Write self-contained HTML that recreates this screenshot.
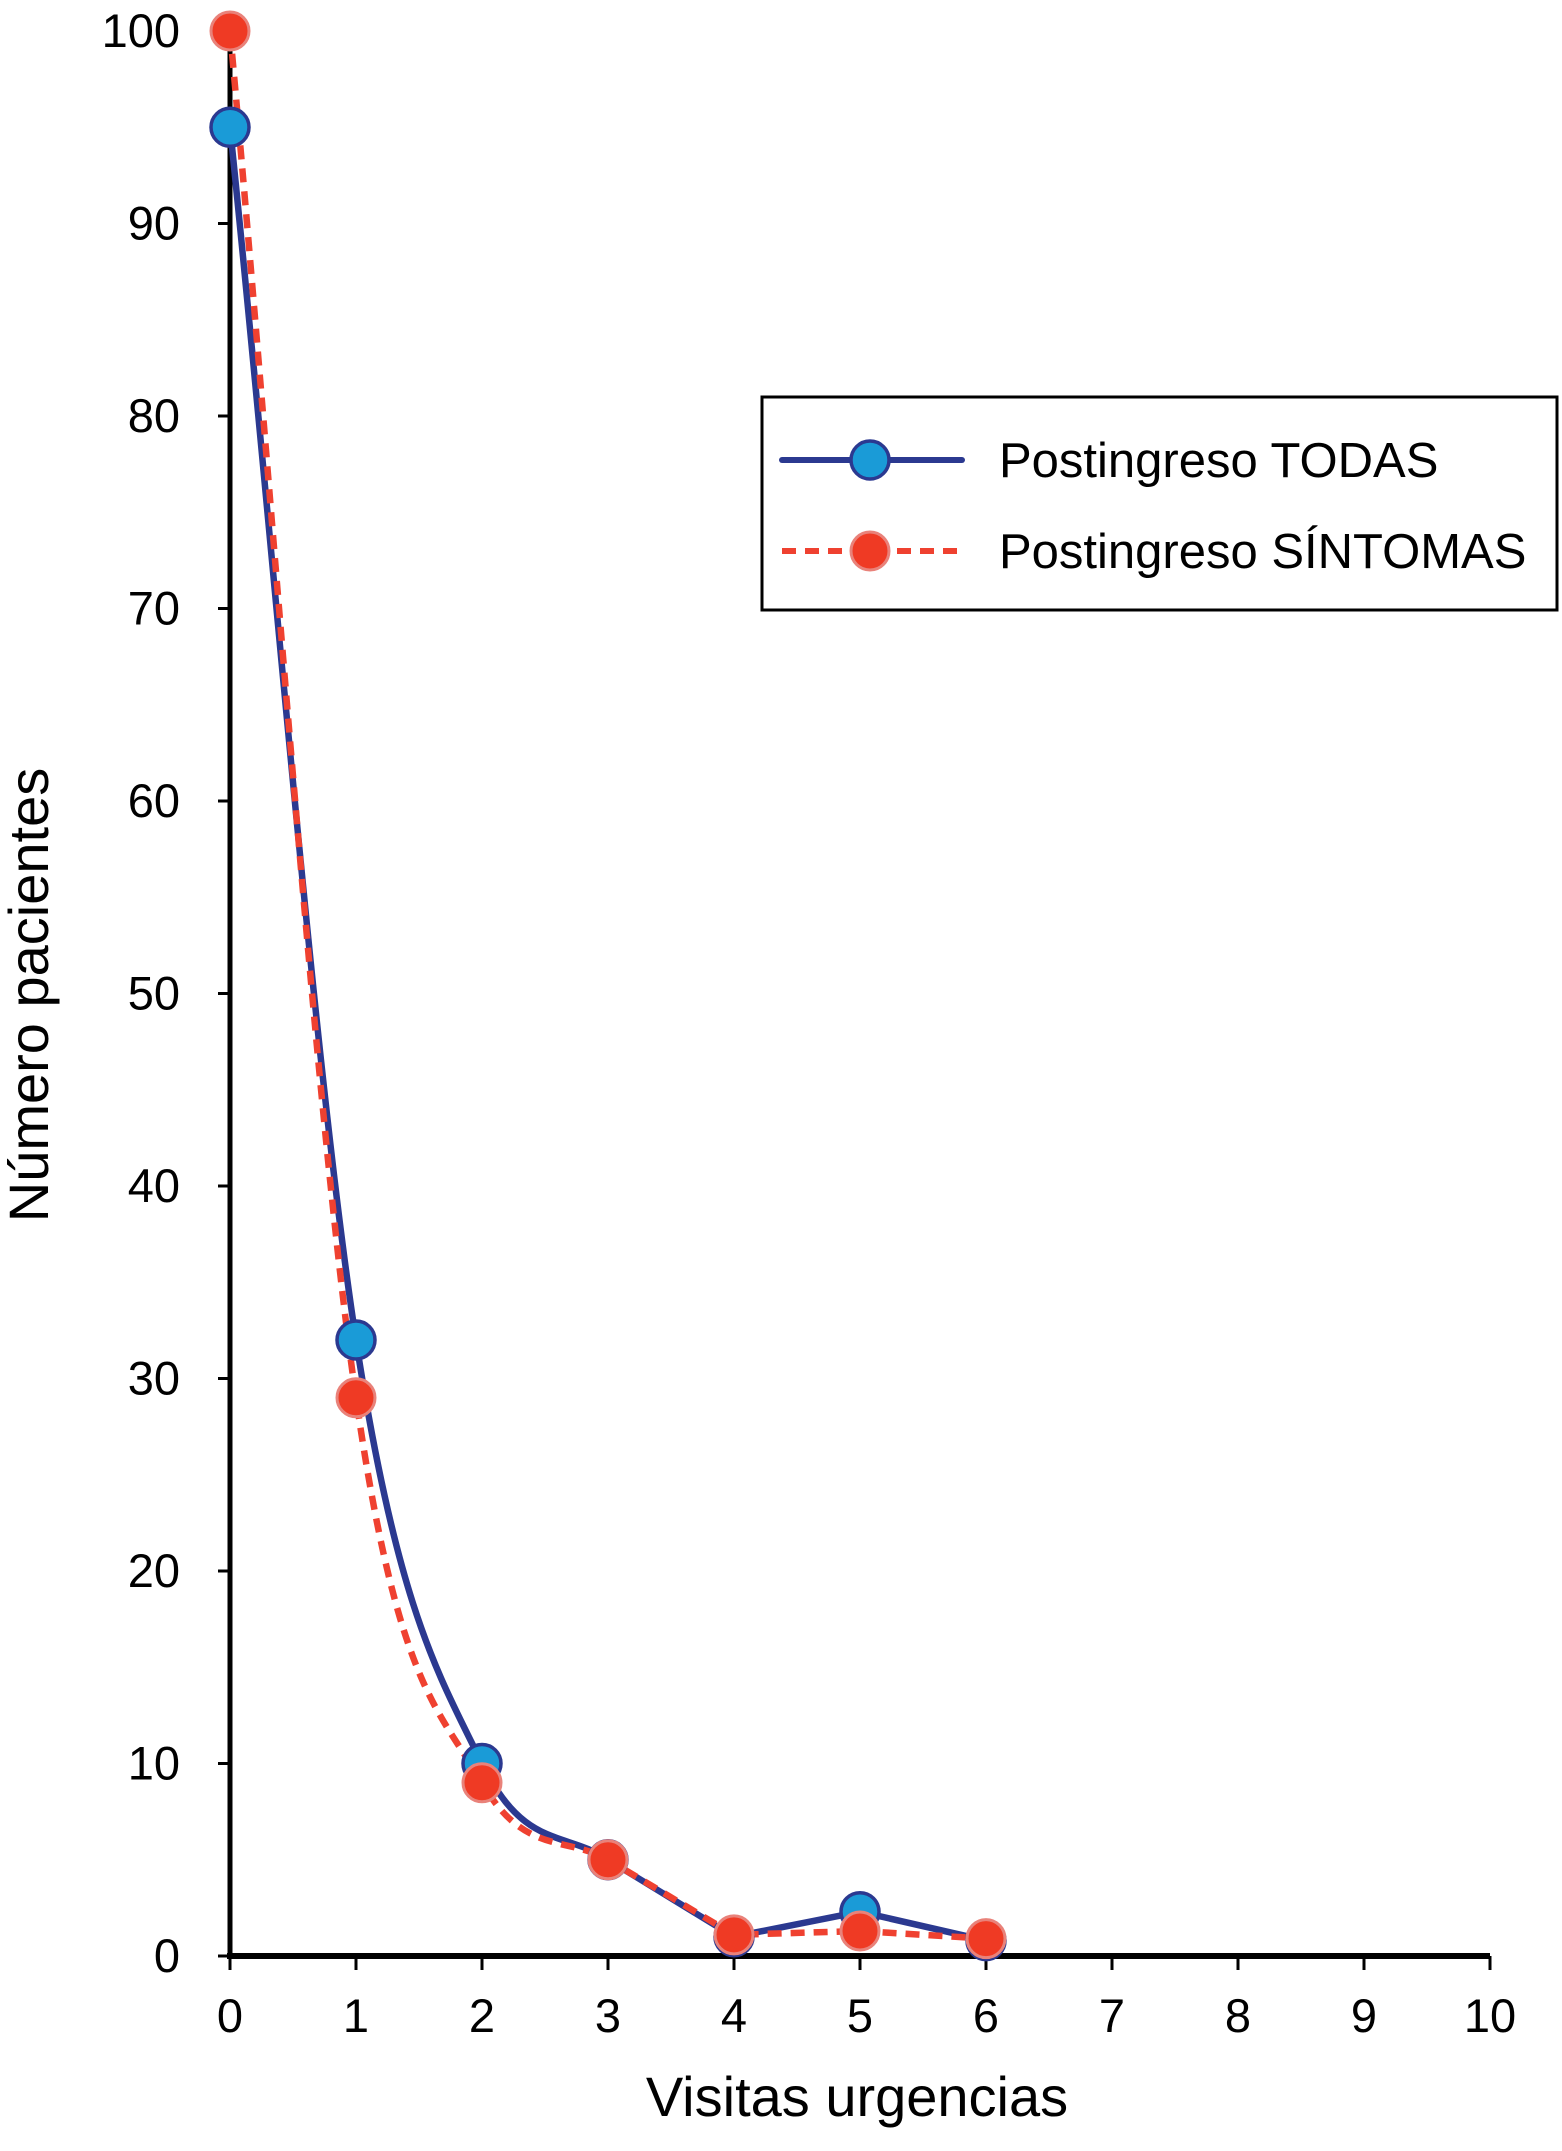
<!DOCTYPE html>
<html><head><meta charset="utf-8"><style>
html,body{margin:0;padding:0;background:#fff;}
svg text{font-family:"Liberation Sans",Arial,sans-serif;fill:#000;}
</style></head><body>
<svg id="chart" width="1562" height="2146" viewBox="0 0 1562 2146" xmlns="http://www.w3.org/2000/svg">
<g id="axes"></g>
<g id="series"></g>
<text x="0" y="0" font-size="56" text-anchor="middle" transform="translate(48,995) rotate(-90)">Número pacientes</text>
<text x="857" y="2116" font-size="56" text-anchor="middle">Visitas urgencias</text>
<g>
<rect x="762" y="397" width="795" height="213" fill="#fff" stroke="#000" stroke-width="3"/>
<g>
<line x1="782" y1="460" x2="962" y2="460" stroke="#2b3990" stroke-width="6" stroke-linecap="round"/>
<circle cx="870" cy="460" r="19" fill="#1a9bd7" stroke="#2b3990" stroke-width="3.5"/>
<text x="999" y="477" font-size="49">Postingreso TODAS</text>
</g>
<g>
<line x1="782" y1="551" x2="962" y2="551" stroke="#ef4130" stroke-width="6" stroke-dasharray="14,9"/>
<circle cx="870" cy="551" r="19" fill="#ef3a24" stroke="#e9827a" stroke-width="3"/>
<text x="999" y="568" font-size="49">Postingreso SÍNTOMAS</text>
</g>
</g>
</svg>
<script>
const xCategories = [0,1,2,3,4,5,6];
const todasValues = [95,32,10,5,1,2.3,0.8];
const sintomasValues = [100,29,9,5,1.1,1.3,0.9];
const xTicks = [0,1,2,3,4,5,6,7,8,9,10];
const yTicks = [0,10,20,30,40,50,60,70,80,90,100];

const NS='http://www.w3.org/2000/svg';
const X0=230, X1=1490, Y0=1956, Y1=31;
function sx(v){return X0+(X1-X0)*v/10;}
function sy(v){return Y0-(Y0-Y1)*v/100;}
function mk(tag,attrs,parent){const e=document.createElementNS(NS,tag);for(const k in attrs)e.setAttribute(k,attrs[k]);parent.appendChild(e);return e;}
const axes=document.getElementById('axes');
const ser=document.getElementById('series');
const ya=mk('line',{x1:X0,y1:sy(100)+20,x2:X0,y2:Y0,stroke:'#000','stroke-width':5},axes);


const xa=mk('line',{x1:X0-3,y1:Y0,x2:X1,y2:Y0,stroke:'#000','stroke-width':6},axes);


yTicks.forEach(v=>{
  const t=mk('line',{x1:X0-12,y1:sy(v),x2:X0,y2:sy(v),stroke:'#000','stroke-width':3},axes);
  
  
  const l=mk('text',{x:180,y:sy(v)+16,'font-size':47,'text-anchor':'end'},axes);
  l.textContent=v;
  
  
});
xTicks.forEach(v=>{
  const t=mk('line',{x1:sx(v),y1:Y0,x2:sx(v),y2:Y0+14,stroke:'#000','stroke-width':3},axes);
  
  
  const l=mk('text',{x:sx(v),y:2032,'font-size':47,'text-anchor':'middle'},axes);
  l.textContent=v;
  
  
});
function monotonePath(xs,ys){
  const n=xs.length,d=[],m=[];
  for(let i=0;i<n-1;i++)d.push((ys[i+1]-ys[i])/(xs[i+1]-xs[i]));
  m[0]=d[0];m[n-1]=d[n-2];
  for(let i=1;i<n-1;i++){m[i]=(d[i-1]*d[i]<=0)?0:(d[i-1]+d[i])/2;}
  for(let i=0;i<n-1;i++){if(d[i]===0){m[i]=0;m[i+1]=0;continue;}const a=m[i]/d[i],b=m[i+1]/d[i],s=a*a+b*b;if(s>9){const t=3/Math.sqrt(s);m[i]=t*a*d[i];m[i+1]=t*b*d[i];}}
  let p='M'+xs[0]+','+ys[0];
  for(let i=0;i<n-1;i++){
    if(i>=3){p+=' L'+xs[i+1]+','+ys[i+1];continue;}
    const h=(xs[i+1]-xs[i])/3;p+=' C'+(xs[i]+h)+','+(ys[i]+m[i]*h)+' '+(xs[i+1]-h)+','+(ys[i+1]-m[i+1]*h)+' '+xs[i+1]+','+ys[i+1];}
  return p;
}
const xs=xCategories.map(sx);
const pt=mk('path',{d:monotonePath(xs,todasValues.map(sy)),fill:'none',stroke:'#2b3990','stroke-width':6.5},ser);


const ps=mk('path',{d:monotonePath(xs,sintomasValues.map(sy)),fill:'none',stroke:'#ef4130','stroke-width':6.5,'stroke-dasharray':'14,9'},ser);


xCategories.forEach((c,i)=>{
  const a=mk('circle',{cx:sx(c),cy:sy(todasValues[i]),r:19,fill:'#1a9bd7',stroke:'#2b3990','stroke-width':3.5},ser);
  
  
});
xCategories.forEach((c,i)=>{
  const b=mk('circle',{cx:sx(c),cy:sy(sintomasValues[i]),r:19,fill:'#ef3a24',stroke:'#e9827a','stroke-width':3},ser);
  
  
});
</script>
</body></html>
